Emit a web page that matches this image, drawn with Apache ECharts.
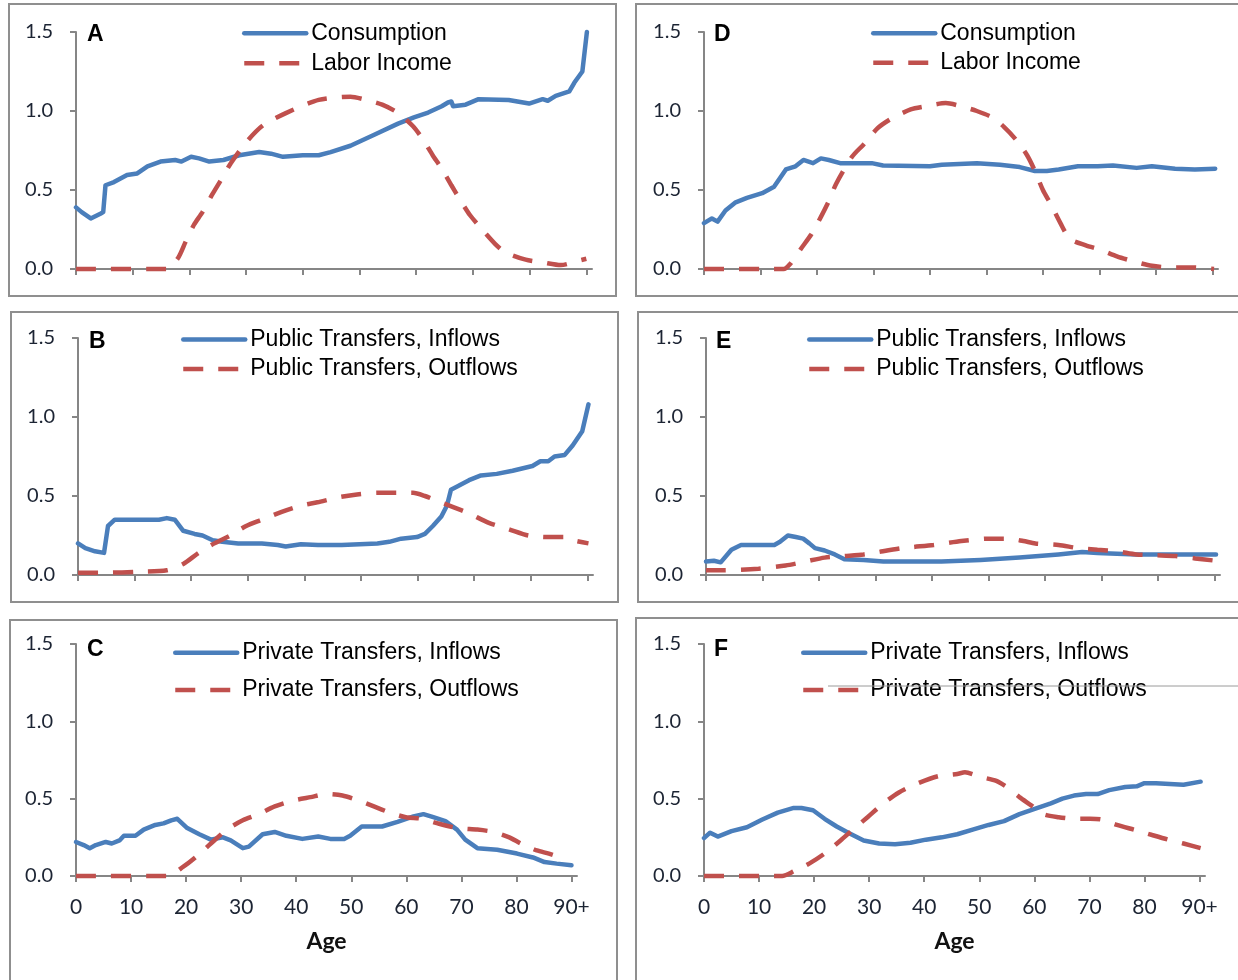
<!DOCTYPE html>
<html><head><meta charset="utf-8">
<script src="https://cdn.jsdelivr.net/npm/echarts@6/dist/echarts.min.js"></script>
<style>html,body{margin:0;padding:0;background:#fff}#c{width:1238px;height:980px}</style>
</head><body><div id="c"></div>
<script>
// ---------- tick labels ----------
const xTickValues = [0,10,20,30,40,50,60,70,80,90];
const xTickLabels = ['0','10','20','30','40','50','60','70','80','90+'];
const yTickValues = [0,0.5,1.0,1.5];

// ---------- Panel A ----------
const agesA_cons = [0,1,2.6,4.3,4.8,5.2,6.7,9,10.8,12.6,14.9,17.5,18.6,20.3,21.7,23.5,26,28.8,32.3,34.4,36.5,40,42.8,44.9,48.4,52.6,56.8,59.6,62.1,64.5,65.6,66.2,66.5,68.7,71,76.3,79.9,82.3,83.2,84.6,87,87.9,89.3,90.1];
const valsA_cons = [0.39,0.36,0.32,0.35,0.36,0.53,0.55,0.595,0.605,0.65,0.68,0.69,0.68,0.71,0.70,0.68,0.69,0.72,0.74,0.73,0.71,0.72,0.72,0.74,0.78,0.85,0.92,0.96,0.99,1.03,1.054,1.06,1.03,1.04,1.075,1.07,1.047,1.075,1.065,1.096,1.124,1.18,1.25,1.50];
const agesA_labor = [0,16,18,19.3,20.8,22.3,24,25.5,27.3,30.2,33,37.2,42.8,48.4,51.2,54,56.7,59.4,61.2,62.9,64.4,66.2,67.7,69.5,71,73.9,75.7,79.3,82.3,85.5,88.7,90];
const valsA_labor = [0,0,0.07,0.17,0.28,0.36,0.47,0.56,0.67,0.81,0.91,0.99,1.07,1.09,1.07,1.04,0.99,0.905,0.82,0.72,0.64,0.53,0.44,0.34,0.276,0.159,0.106,0.059,0.042,0.025,0.053,0.065];

// ---------- Panel B ----------
const agesB_in = [0,1.3,3,4.6,5.3,6.5,9.3,14.3,15.7,17.1,18.6,20.6,22,23.8,25.5,28.3,32.5,35.3,36.7,39.4,42.4,46.6,52.9,55,57.1,59.9,61.3,62.7,64.2,65.2,65.9,67,69.1,71.2,74,76.8,80.3,81.7,83.1,84.2,86,87.4,89.1,90.2];
const valsB_in = [0.20,0.17,0.15,0.14,0.31,0.35,0.35,0.35,0.36,0.35,0.28,0.26,0.25,0.22,0.21,0.20,0.20,0.19,0.18,0.195,0.19,0.19,0.20,0.21,0.23,0.24,0.26,0.31,0.37,0.44,0.54,0.56,0.60,0.63,0.64,0.66,0.69,0.72,0.72,0.75,0.76,0.82,0.91,1.08];
const agesB_out = [0,5,10,15.7,18.6,21.3,24.1,26.9,29.7,32.5,36,39.5,42.3,45.8,49.3,52.9,56.4,59.2,61.3,63.4,66.3,69.1,72.6,76.1,79.6,83.1,86,87.4,90.2];
const valsB_out = [0.015,0.015,0.02,0.03,0.07,0.14,0.20,0.25,0.31,0.35,0.40,0.44,0.46,0.49,0.51,0.52,0.52,0.52,0.50,0.47,0.43,0.39,0.33,0.29,0.25,0.24,0.24,0.22,0.20];

// ---------- Panel C ----------
const agesC_in = [0,1.4,2.5,3.6,5.4,6.5,7.9,8.7,10.8,12.3,14.4,15.9,17.3,18.4,20.2,22.4,24.5,26.7,28.1,30.3,31.4,33.9,36.1,38.2,41.1,44,46.2,48.7,49.8,51.9,55.6,58.4,61.3,63.1,64.9,67.1,69.2,70.7,72.9,76.5,80.1,83,85.1,87.3,90];
const valsC_in = [0.22,0.20,0.18,0.20,0.22,0.21,0.23,0.26,0.26,0.30,0.33,0.34,0.36,0.37,0.31,0.27,0.235,0.25,0.23,0.18,0.19,0.27,0.285,0.26,0.24,0.255,0.24,0.24,0.26,0.32,0.32,0.35,0.385,0.40,0.38,0.355,0.30,0.235,0.18,0.17,0.145,0.12,0.09,0.08,0.07];
const agesC_out = [0,16.6,19.5,21.7,24.5,27.4,30.3,33.2,36.1,39.7,42.6,45.5,48.4,51.2,54.1,57,59.9,62.8,65.7,69.3,72.9,75.8,78.7,80.8,83.7,85.9,88];
const valsC_out = [0,0,0.06,0.12,0.21,0.30,0.36,0.40,0.45,0.49,0.51,0.53,0.52,0.49,0.45,0.41,0.38,0.37,0.34,0.31,0.30,0.285,0.25,0.21,0.165,0.145,0.12];

// ---------- Panel D ----------
const agesD_cons = [0,1.4,2.4,3.8,5.5,7.6,10.3,12.4,14.5,16.2,17.6,19.3,20.7,22.1,24.1,29.7,31.7,40,42.1,48.3,52.4,55.9,58.6,60.7,62.8,66.2,69.7,72.4,76.6,79.3,83.4,86.9,90.5];
const valsD_cons = [0.29,0.32,0.30,0.37,0.42,0.45,0.48,0.52,0.63,0.65,0.69,0.67,0.70,0.69,0.67,0.67,0.655,0.65,0.66,0.67,0.66,0.645,0.62,0.62,0.63,0.65,0.65,0.655,0.64,0.65,0.635,0.63,0.635];
const agesD_labor = [0,14.1,15.2,17.2,19,20.7,22.1,23.4,26.2,28.3,30.7,33.1,36.6,39.3,42.8,45.5,48.3,51,53.1,55.2,57.2,58.6,60,61.4,63.1,64.8,67.6,70.3,73.1,75.9,79.3,82.8,86.2,90.3];
const valsD_labor = [0,0,0.03,0.13,0.22,0.33,0.43,0.54,0.71,0.79,0.89,0.95,1.01,1.03,1.05,1.03,1.00,0.96,0.90,0.82,0.72,0.62,0.50,0.41,0.29,0.19,0.15,0.12,0.08,0.05,0.02,0.01,0.01,0.0];

// ---------- Panel E ----------
const agesE_in = [0,1.4,2.6,4.5,6.2,9.3,12.1,13.1,14.5,15.9,17.2,18.3,19.3,21,22.8,24.5,27.9,31.4,41.7,48.6,55.5,62.4,66.6,69.3,76.2,90.3];
const valsE_in = [0.085,0.09,0.08,0.16,0.19,0.19,0.19,0.21,0.25,0.24,0.23,0.20,0.17,0.155,0.13,0.10,0.095,0.085,0.085,0.095,0.11,0.13,0.145,0.14,0.13,0.13];
const agesE_out = [0,3.1,9.3,14.1,17.6,21,24.5,27.9,34.8,40.3,45.2,50,53.4,56.2,58.3,62.4,65.9,69.3,72.8,76.2,79.7,83.1,86.6,90.3];
const valsE_out = [0.03,0.03,0.04,0.06,0.085,0.11,0.12,0.13,0.17,0.19,0.215,0.23,0.23,0.215,0.20,0.19,0.17,0.16,0.15,0.13,0.125,0.12,0.105,0.09];

// ---------- Panel F ----------
const agesF_in = [0,1.1,2.5,5,7.8,10.6,13.4,16.3,17.7,19.8,21.9,24.1,26.2,29,31.8,34.7,37.5,40.3,43.2,46,48.8,51.7,54.5,57.3,60.2,63,65.1,67.2,69.4,71.5,73.6,76.5,78.6,80,82.1,87.1,90.2];
const valsF_in = [0.245,0.28,0.255,0.29,0.315,0.365,0.41,0.44,0.44,0.425,0.37,0.32,0.28,0.23,0.21,0.205,0.215,0.235,0.25,0.27,0.30,0.33,0.355,0.40,0.435,0.47,0.50,0.52,0.53,0.53,0.555,0.575,0.58,0.60,0.60,0.59,0.61];
const agesF_out = [0,14.2,16.3,19.1,21.9,24.8,26.9,29.7,32.6,35.4,38.9,42.5,46,47.4,50.3,53.1,55.2,57.3,59.5,61.6,64.4,67.2,70.1,72.2,75,78.6,81.4,84.3,87.1,90.2];
const valsF_out = [0,0,0.03,0.08,0.145,0.23,0.295,0.38,0.47,0.54,0.60,0.645,0.66,0.67,0.64,0.615,0.57,0.51,0.455,0.40,0.38,0.37,0.37,0.365,0.33,0.295,0.265,0.235,0.21,0.18];

// ---------- names ----------
const namesAD = ['Consumption','Labor Income'];
const namesBE = ['Public Transfers, Inflows','Public Transfers, Outflows'];
const namesCF = ['Private Transfers, Inflows','Private Transfers, Outflows'];
const panelLetters = ['A','B','C','D','E','F'];

// ---------- layout (positions/styles) ----------
const BLUE = '#4A7EBB', RED = '#C0504D', AXIS = '#868686', TXT = '#1c2433';
const panels = [
  {names:namesAD, s:[[agesA_cons,valsA_cons],[agesA_labor,valsA_labor]], grid:{left:76,top:32,width:516,height:237}, box:[9,4,607,292], letter:[87,35], leg:{left:242,c:33.3,step:30}, xl:false},
  {names:namesBE, s:[[agesB_in,valsB_in],[agesB_out,valsB_out]], grid:{left:78,top:338,width:515,height:237}, box:[11,312,607,290], letter:[89,342], leg:{left:181,c:339.4,step:29.7}, xl:false},
  {names:namesCF, s:[[agesC_in,valsC_in],[agesC_out,valsC_out]], grid:{left:76,top:644,width:501,height:232}, box:[10,620,607,380], letter:[87,650], leg:{left:173,c:652.7,step:37.3}, xl:true},
  {names:namesAD, s:[[agesD_cons,valsD_cons],[agesD_labor,valsD_labor]], grid:{left:704,top:32,width:514,height:237}, box:[636,4,620,292], letter:[714,35], leg:{left:871,c:33.3,step:29.5}, xl:false},
  {names:namesBE, s:[[agesE_in,valsE_in],[agesE_out,valsE_out]], grid:{left:706,top:338,width:514,height:237}, box:[638,312,620,290], letter:[716,342], leg:{left:807,c:339.4,step:29.5}, xl:false},
  {names:namesCF, s:[[agesF_in,valsF_in],[agesF_out,valsF_out]], grid:{left:704,top:644,width:501,height:232}, box:[636,618,620,380], letter:[714,650], leg:{left:801,c:652.7,step:37.3}, xl:true}
];

const zip = (a, v) => a.map((x, i) => [x, v[i]]);
const grids = [], xAxes = [], yAxes = [], series = [], legends = [], graphics = [];
const ROWH = 24;
panels.forEach((p, i) => {
  grids.push(Object.assign({containLabel:false}, p.grid));
  xAxes.push({
    type:'value', gridIndex:i, min:0, max:91,
    axisLine:{show:true, onZero:false, lineStyle:{color:AXIS, width:2}},
    axisTick:{show:true, length:6, inside:false, customValues:xTickValues, lineStyle:{color:AXIS, width:2}},
    axisLabel:{show:p.xl, customValues:xTickValues, margin:21, fontFamily:'Lato', fontSize:21, color:TXT,
      formatter:v => xTickLabels[xTickValues.indexOf(v)] ?? ''},
    splitLine:{show:false},
    name: p.xl ? 'Age' : '', nameLocation:'middle', nameGap:54,
    nameTextStyle:{fontFamily:'Lato', fontWeight:'bold', fontSize:23, color:'#111'}
  });
  yAxes.push({
    type:'value', gridIndex:i, min:0, max:1.5, interval:0.5,
    axisLine:{show:true, lineStyle:{color:AXIS, width:2}},
    axisTick:{show:true, length:6, lineStyle:{color:AXIS, width:2}},
    axisLabel:{margin:23, fontFamily:'Lato', fontSize:20, color:TXT, formatter:v => v.toFixed(1)},
    splitLine:{show:false}
  });
  series.push({
    type:'line', name:p.names[0], xAxisIndex:i, yAxisIndex:i, data:zip(p.s[0][0], p.s[0][1]),
    symbol:'none', smooth:false, color:BLUE, lineStyle:{color:BLUE, width:4.5, cap:'round', join:'round'},
    clip:false, animation:false, z:2
  });
  series.push({
    type:'line', name:p.names[1], xAxisIndex:i, yAxisIndex:i, data:zip(p.s[1][0], p.s[1][1]),
    symbol:'none', smooth:0.25, color:RED, lineStyle:{color:RED, width:4.5, type:[20,15], cap:'butt'},
    clip:false, animation:false, z:3
  });
  legends.push({
    data:p.names, orient:'vertical', left:p.leg.left, top:p.leg.c - ROWH/2, padding:0,
    itemWidth:62, itemHeight:ROWH, itemGap:p.leg.step - ROWH, selectedMode:false,
    lineStyle:{width:4.5}, itemStyle:{opacity:0},
    textStyle:{fontFamily:'Liberation Sans', fontSize:23, lineHeight:ROWH, color:'#000'}
  });
  graphics.push({type:'rect', shape:{x:p.box[0], y:p.box[1], width:p.box[2], height:p.box[3]},
    style:{fill:'none', stroke:'#8f8f8f', lineWidth:2}, z:-1});
  graphics.push({type:'text', x:p.letter[0], y:p.letter[1],
    style:{text:panelLetters[i], fontFamily:'Liberation Sans', fontWeight:'bold', fontSize:23, fill:'#000', verticalAlign:'middle', align:'left'}});
});
graphics.push({type:'line', shape:{x1:828, y1:686, x2:1238, y2:686}, style:{stroke:'#9a9a9a', lineWidth:1}, z:10});

const chart = echarts.init(document.getElementById('c'), null, {renderer:'canvas'});
chart.setOption({
  backgroundColor:'#fff', animation:false,
  grid:grids, xAxis:xAxes, yAxis:yAxes, series:series, legend:legends, graphic:graphics
});
</script></body></html>
